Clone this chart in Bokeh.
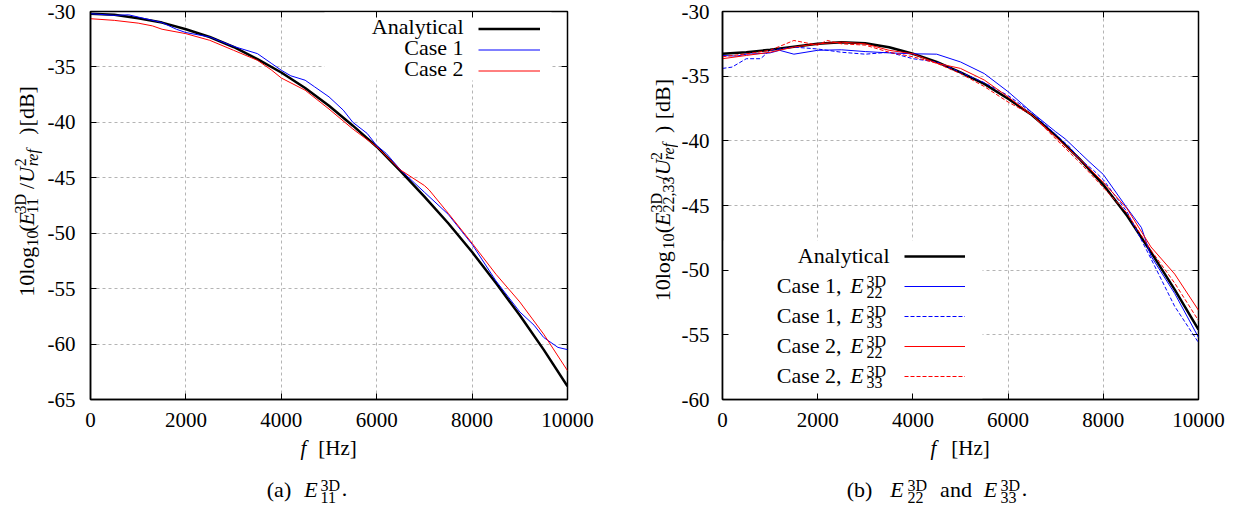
import math
from bokeh.plotting import figure
from bokeh.models import (Range1d, FixedTicker, LinearAxis, Label, Legend, LegendItem,
                          BoxAnnotation, Grid)
from bokeh.layouts import row, column
from bokeh.embed import file_html
from bokeh.resources import INLINE

SERIF = "Liberation Serif"

# ---------------- data ----------------
x_ticks = [0, 2000, 4000, 6000, 8000, 10000]
y_ticks_a = [-65, -60, -55, -50, -45, -40, -35, -30]
y_ticks_b = [-60, -55, -50, -45, -40, -35, -30]

# (a) E11
f_an_a = [0, 500, 1000, 1500, 2000, 2500, 3000, 3500, 4000, 4500, 5000, 5500, 6000, 6500,
          7000, 7500, 8000, 8500, 9000, 9500, 10000]
an_11 = [-30.2, -30.3, -30.6, -31.0, -31.6, -32.3, -33.2, -34.3, -35.5, -36.9, -38.5, -40.3,
         -42.2, -44.4, -46.7, -49.1, -51.7, -54.5, -57.4, -60.5, -63.8]

f_c1_11 = [0, 500, 800, 1000, 1500, 1800, 2000, 2500, 3000, 3500, 3800, 4000, 4200, 4500, 4700,
           5000, 5300, 5500, 5800, 6000, 6200, 6500, 6800, 7000, 7500, 8000, 8500, 9000, 9300,
           9500, 9800, 10000]
c1_11 = [-30.2, -30.35, -30.3, -30.5, -31.0, -31.6, -31.9, -32.3, -33.15, -33.8, -34.7, -35.3,
         -35.8, -36.2, -36.8, -37.7, -38.9, -40.0, -41.0, -42.1, -42.8, -44.3, -45.5, -46.3,
         -48.3, -51.0, -54.3, -57.1, -58.3, -59.4, -60.3, -60.5]

f_c2_11 = [0, 500, 1000, 1300, 1500, 2000, 2500, 3000, 3500, 3800, 4000, 4500, 5000, 5500, 6000,
           6500, 7000, 7100, 7500, 8000, 8500, 9000, 9500, 10000]
c2_11 = [-30.65, -30.8, -31.05, -31.3, -31.6, -32.0, -32.6, -33.5, -34.4, -35.3, -36.0, -37.1,
         -38.8, -40.6, -42.2, -44.3, -45.7, -46.1, -48.2, -50.9, -53.7, -56.2, -59.1, -62.4]

# (b) E22 / E33
f_an_b = [0, 500, 1000, 1500, 2000, 2500, 3000, 3500, 4000, 4500, 5000, 5500, 6000, 6500,
          7000, 7500, 8000, 8500, 9000, 9500, 10000]
an_22 = [-33.27, -33.15, -32.96, -32.72, -32.5, -32.37, -32.45, -32.76, -33.27, -33.9, -34.7,
         -35.6, -36.75, -38.0, -39.6, -41.4, -43.4, -45.8, -48.6, -51.5, -54.6]

f_c1_22 = [0, 300, 500, 800, 1000, 1200, 1500, 2000, 2500, 3000, 3500, 4000, 4500, 5000, 5500,
           6000, 6500, 7000, 7200, 7500, 7700, 8000, 8500, 8800, 9000, 9500, 10000]
c1_22 = [-33.4, -33.45, -33.3, -33.25, -33.2, -33.0, -33.3, -33.0, -32.96, -33.1, -33.2, -33.27,
         -33.3, -33.9, -34.8, -36.2, -37.8, -39.3, -39.85, -40.9, -41.6, -42.6, -45.2, -46.7,
         -48.9, -51.8, -55.2]

f_c1_33 = [0, 200, 500, 800, 1000, 1500, 2000, 2500, 3000, 3500, 4000, 4500, 5000, 5500, 6000,
           6500, 7000, 7300, 7500, 7800, 8000, 8500, 9000, 9500, 10000]
c1_33 = [-34.4, -34.3, -33.65, -33.65, -33.0, -32.75, -32.9, -33.15, -33.3, -33.15, -33.65,
         -33.9, -34.7, -35.5, -36.5, -37.8, -39.5, -40.5, -41.4, -42.3, -43.0, -45.5, -49.1,
         -52.8, -55.6]

f_c2_22 = [0, 500, 1000, 1500, 2000, 2500, 3000, 3500, 4000, 4500, 5000, 5500, 6000, 6500,
           7000, 7500, 8000, 8500, 9000, 9500, 10000]
c2_22 = [-33.65, -33.4, -33.15, -32.75, -32.5, -32.37, -32.5, -33.0, -33.27, -34.0, -34.4,
         -35.3, -36.6, -38.0, -39.7, -41.4, -43.2, -45.25, -48.2, -50.3, -53.1]

f_c2_33 = [0, 500, 1000, 1500, 2000, 2200, 2500, 3000, 3500, 4000, 4500, 5000, 5500, 6000, 6500,
           7000, 7500, 8000, 8500, 9000, 9500, 10000]
c2_33 = [-33.5, -33.27, -33.0, -32.24, -32.6, -32.24, -32.5, -32.6, -33.15, -33.5, -34.0, -34.8,
         -35.8, -37.0, -38.0, -39.85, -41.65, -43.6, -45.6, -48.45, -51.0, -53.9]

legend_a = ["Analytical", "Case 1", "Case 2"]

# ---------------- layout constants (global page pixels) ----------------
FT, FH = 11, 388
FB = FT + FH          # frame bottom = 399
SPLIT = 436           # charts above, x-label + caption strips below
H = 508
MAIN, SCRIPT = 22, 16
TICK = 21
XLAB = 21
R90 = math.pi / 2
KB = 0.34             # baseline correction (fraction of font size)


def make_fig(width, bl, br, yr, yt, ystand):
    p = figure(width=width, height=SPLIT, x_range=Range1d(0, 10000), y_range=Range1d(*yr),
               output_backend="svg", toolbar_location=None, title=None,
               min_border_left=bl, min_border_right=br, min_border_top=FT,
               min_border_bottom=SPLIT - FB, x_axis_type=None, y_axis_type=None)
    p.outline_line_color = "black"
    p.outline_line_width = 1.5
    xt = FixedTicker(ticks=x_ticks)
    ytk = FixedTicker(ticks=yt)
    p.add_layout(Grid(dimension=0, ticker=xt, grid_line_color="#b4b4b4", grid_line_dash="3 3",
                      grid_line_width=1))
    p.add_layout(Grid(dimension=1, ticker=ytk, grid_line_color="#b4b4b4", grid_line_dash="3 3",
                      grid_line_width=1))
    for loc, tk, ticks, show in [("below", xt, x_ticks, True), ("left", ytk, yt, True),
                                 ("above", xt, x_ticks, False), ("right", ytk, yt, False)]:
        ax = LinearAxis(ticker=tk)
        ax.major_label_overrides = {t: str(t) for t in ticks}
        ax.major_tick_in = 6
        ax.major_tick_out = 0
        ax.minor_tick_line_color = None
        ax.major_tick_line_color = "black"
        ax.major_tick_line_width = 1
        ax.axis_line_color = "black" if show else None
        ax.axis_line_width = 1.5
        ax.major_label_text_font = SERIF
        if show:
            ax.major_label_text_color = "black"
            ax.major_label_text_font_size = f"{TICK}px"
            ax.major_label_standoff = 13 if loc == "below" else ystand
        else:
            ax.major_label_text_color = None
            ax.major_label_text_font_size = "1px"
            ax.major_label_standoff = 0
        p.add_layout(ax, loc)
    return p


def text_plot(w, h):
    p = figure(width=w, height=h, x_range=Range1d(0, w), y_range=Range1d(h, 0),
               output_backend="svg", toolbar_location=None, title=None, min_border=0,
               x_axis_type=None, y_axis_type=None)
    p.outline_line_color = None
    return p


def lab(text, size, style, align, angle):
    return dict(text=text, text_font=SERIF, text_font_size=f"{size}px", text_font_style=style,
                text_align=align, text_baseline="alphabetic", angle=angle, text_color="black")


def corr(gx, gy, size, angle):
    k = KB * size
    return gx - k * math.sin(angle), gy - k * math.cos(angle)


def put_frame(p, fl, text, gx, gy, size=MAIN, style="normal", align="center", angle=0.0):
    """text inside a chart frame; gx, gy are page pixels of the intended baseline"""
    gx, gy = corr(gx, gy, size, angle)
    p.add_layout(Label(x=gx - fl, y=FB - gy, x_units="screen", y_units="screen",
                       **lab(text, size, style, align, angle)))


def put_text(p, ox, oy, text, gx, gy, size=MAIN, style="normal", align="center", angle=0.0):
    """text in a text strip whose top-left corner is at page (ox, oy)"""
    gx, gy = corr(gx, gy, size, angle)
    p.add_layout(Label(x=gx - ox, y=gy - oy, **lab(text, size, style, align, angle)))


def mask(p, l, r, b, t):
    p.add_layout(BoxAnnotation(left=l, right=r, bottom=b, top=t, left_units="screen",
                               right_units="screen", bottom_units="screen", top_units="screen",
                               fill_color="white", fill_alpha=1.0, line_color=None,
                               level="underlay"))


def sample_legend(p, rs, x, y, gw, gh):
    leg = Legend(items=[LegendItem(label=" ", renderers=[r]) for r in rs], location=(x, y),
                 glyph_width=gw, glyph_height=gh, spacing=0, padding=0, margin=0,
                 label_standoff=0, label_width=0, label_height=0, label_text_font_size="1px",
                 label_text_color=None, border_line_color=None, background_fill_alpha=0)
    p.add_layout(leg)


def y_label(p, ox, oy, yb, pos, sub_text):
    ysup, ysub = yb - 8, yb + 4.5
    put_text(p, ox, oy, "10log", yb, pos[0], angle=R90)
    put_text(p, ox, oy, "10", ysub, pos[1], SCRIPT, angle=R90)
    put_text(p, ox, oy, "(", yb, pos[2], angle=R90)
    put_text(p, ox, oy, "E", yb, pos[3], style="italic", angle=R90)
    put_text(p, ox, oy, "3D", ysup, pos[4], SCRIPT, align="left", angle=R90)
    put_text(p, ox, oy, sub_text, ysub, pos[4], SCRIPT, align="left", angle=R90)
    put_text(p, ox, oy, "/", yb, pos[5], angle=R90)
    put_text(p, ox, oy, "U", yb, pos[6], style="italic", angle=R90)
    put_text(p, ox, oy, "2", ysup, pos[7], SCRIPT, align="left", angle=R90)
    put_text(p, ox, oy, "ref", ysub, pos[7], SCRIPT, style="italic", align="left", angle=R90)
    put_text(p, ox, oy, ")", yb, pos[8], angle=R90)
    put_text(p, ox, oy, "[dB]", yb, pos[9], angle=R90)


# ================= (a) =================
YA_W = 44
FLA = 89
pa = make_fig(620 - YA_W, FLA - YA_W, 53, (-65, -30), y_ticks_a, 15)
mask(pa, 234, 461, FB - 80, FH - 1)
ra0 = pa.line(f_an_a, an_11, line_color="black", line_width=2.5)
ra1 = pa.line(f_c1_11, c1_11, line_color="#0000ff", line_width=1)
ra2 = pa.line(f_c2_11, c2_11, line_color="#ff0000", line_width=1)
sample_legend(pa, [ra0, ra1, ra2], 477 - FLA, FB - 80.5, 62, 21)
for i, name in enumerate(legend_a):
    put_frame(pa, FLA, name, 462, 33.5 + 21 * i, align="right")

ya = text_plot(YA_W, SPLIT)
y_label(ya, 0, 0, 33, [292.5, 255, 243.5, 233, 227, 196, 183.5, 174, 134.5, 106.5], "11")

ca = text_plot(620, H - SPLIT)
put_text(ca, 0, SPLIT, "f", 303, 455, XLAB, style="italic")
put_text(ca, 0, SPLIT, "[Hz]", 337, 455, XLAB)
put_text(ca, 0, SPLIT, "(a)", 278.5, 496)
put_text(ca, 0, SPLIT, "E", 310.5, 496, style="italic")
put_text(ca, 0, SPLIT, "3D", 320, 490, SCRIPT, align="left")
put_text(ca, 0, SPLIT, "11", 320, 502, SCRIPT, align="left")
put_text(ca, 0, SPLIT, ".", 344, 496)

# ================= (b) =================
YB_W = 58
FLB = 720
pb = make_fig(624 - YB_W, FLB - 620 - YB_W, 46, (-60, -30), y_ticks_b, 13)
mask(pb, 1, 260, 1, FB - 240)
rb0 = pb.line(f_an_b, an_22, line_color="black", line_width=2.5)
rb1 = pb.line(f_c1_22, c1_22, line_color="#0000ff", line_width=1)
rb2 = pb.line(f_c1_33, c1_33, line_color="#0000ff", line_width=1, line_dash="4 2")
rb3 = pb.line(f_c2_22, c2_22, line_color="#ff0000", line_width=1)
rb4 = pb.line(f_c2_33, c2_33, line_color="#ff0000", line_width=1, line_dash="4 2")
sample_legend(pb, [rb0, rb1, rb2, rb3, rb4], 902 - FLB, FB - 391, 61, 30)

rows_b = [256, 286, 316, 346, 376]
put_frame(pb, FLB, "Analytical", 887, rows_b[0] + 6, align="right")
for yrow, case, sub in zip(rows_b[1:], ["Case 1,", "Case 1,", "Case 2,", "Case 2,"],
                           ["22", "33", "22", "33"]):
    put_frame(pb, FLB, case, 839, yrow + 6, align="right")
    put_frame(pb, FLB, "E", 854.5, yrow + 6, style="italic")
    put_frame(pb, FLB, "3D", 864, yrow, SCRIPT, align="left")
    put_frame(pb, FLB, sub, 864, yrow + 11, SCRIPT, align="left")

yb_plot = text_plot(YB_W, SPLIT)
y_label(yb_plot, 620, 0, 669, [297.5, 258.5, 245, 233.5, 226, 187.5, 175, 167, 132.5, 98.5],
        "22,33")

cb = text_plot(624, H - SPLIT)
put_text(cb, 620, SPLIT, "f", 933, 455, XLAB, style="italic")
put_text(cb, 620, SPLIT, "[Hz]", 970, 455, XLAB)
put_text(cb, 620, SPLIT, "(b)", 859, 496)
put_text(cb, 620, SPLIT, "E", 896.5, 496, style="italic")
put_text(cb, 620, SPLIT, "3D", 907, 490, SCRIPT, align="left")
put_text(cb, 620, SPLIT, "22", 907, 502, SCRIPT, align="left")
put_text(cb, 620, SPLIT, "and", 955.5, 496)
put_text(cb, 620, SPLIT, "E", 990, 496, style="italic")
put_text(cb, 620, SPLIT, "3D", 1000, 490, SCRIPT, align="left")
put_text(cb, 620, SPLIT, "33", 1000, 502, SCRIPT, align="left")
put_text(cb, 620, SPLIT, ".", 1024, 496)

layout = row(column(row(ya, pa), ca), column(row(yb_plot, pb), cb))
open("out.html", "w").write(file_html(layout, INLINE))
